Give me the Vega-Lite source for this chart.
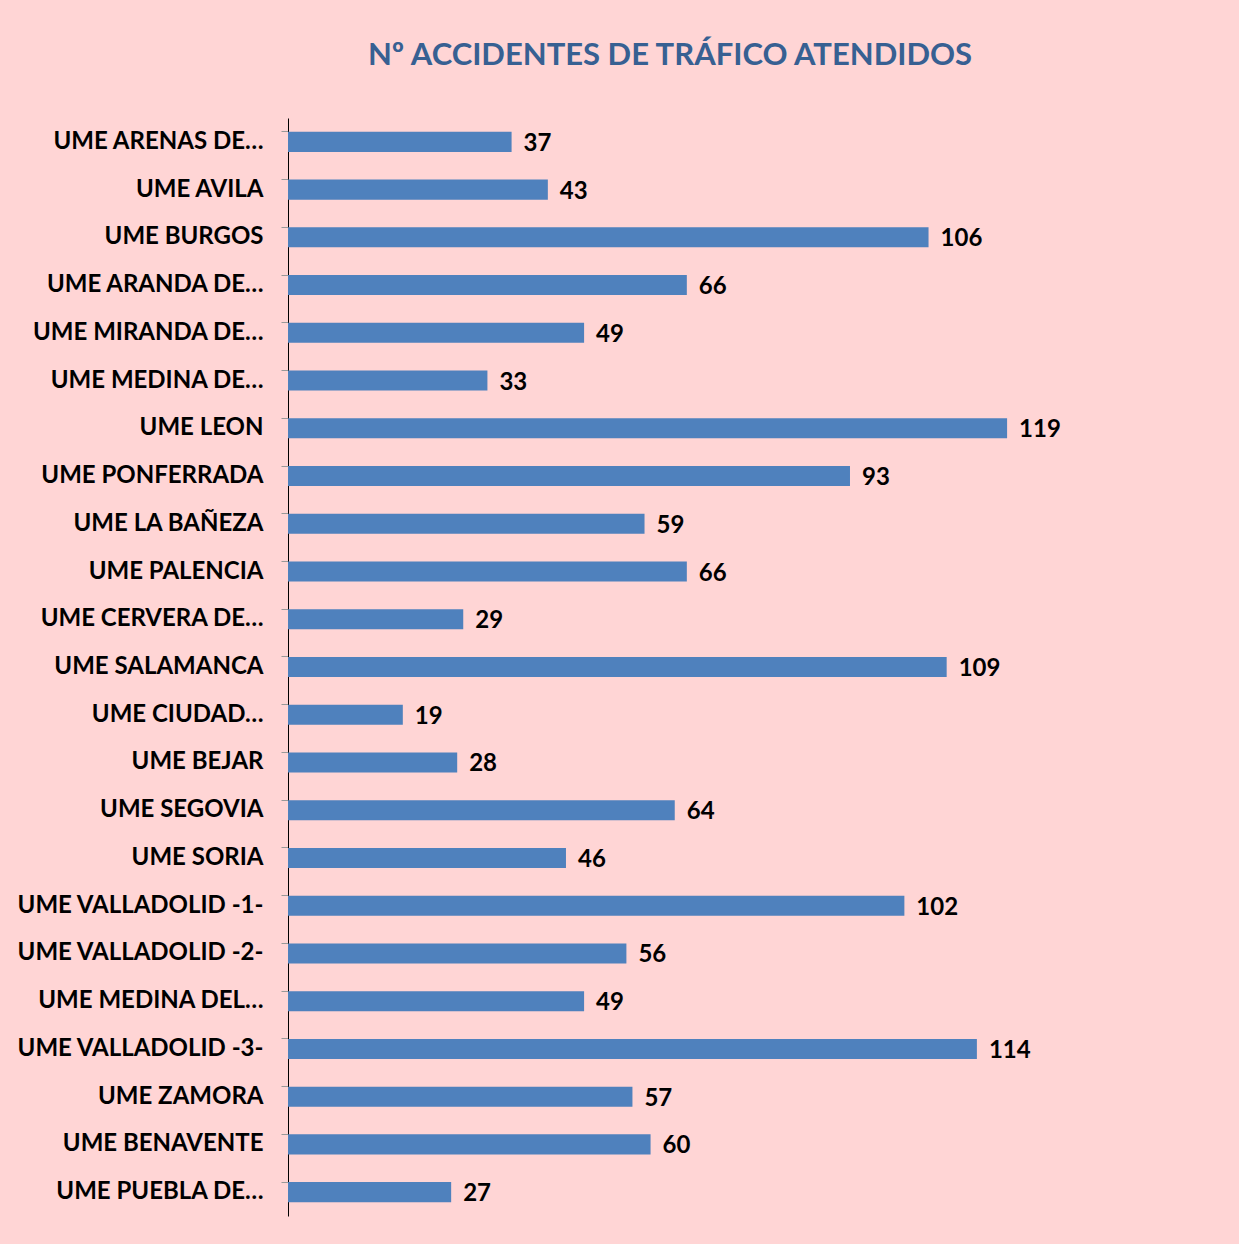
{
  "$schema": "https://vega.github.io/schema/vega-lite/v6.json",
  "autosize": "none",
  "width": 846,
  "height": 1098,
  "padding": {"left": 288, "top": 118, "right": 105, "bottom": 28},
  "background": "#FFD5D5",
  "title": {
    "text": "Nº ACCIDENTES DE TRÁFICO ATENDIDOS",
    "font": "Lato",
    "fontSize": 31,
    "fontWeight": "bold",
    "color": "#376092",
    "anchor": "middle",
    "frame": "group",
    "dx": -41,
    "offset": 46
  },
  "data": {
    "values": [
      {"unidad": "UME ARENAS DE…", "n": 37},
      {"unidad": "UME AVILA", "n": 43},
      {"unidad": "UME BURGOS", "n": 106},
      {"unidad": "UME ARANDA DE…", "n": 66},
      {"unidad": "UME MIRANDA DE…", "n": 49},
      {"unidad": "UME MEDINA DE…", "n": 33},
      {"unidad": "UME LEON", "n": 119},
      {"unidad": "UME PONFERRADA", "n": 93},
      {"unidad": "UME LA BAÑEZA", "n": 59},
      {"unidad": "UME PALENCIA", "n": 66},
      {"unidad": "UME CERVERA DE…", "n": 29},
      {"unidad": "UME SALAMANCA", "n": 109},
      {"unidad": "UME CIUDAD…", "n": 19},
      {"unidad": "UME BEJAR", "n": 28},
      {"unidad": "UME SEGOVIA", "n": 64},
      {"unidad": "UME SORIA", "n": 46},
      {"unidad": "UME VALLADOLID -1-", "n": 102},
      {"unidad": "UME VALLADOLID -2-", "n": 56},
      {"unidad": "UME MEDINA DEL…", "n": 49},
      {"unidad": "UME VALLADOLID -3-", "n": 114},
      {"unidad": "UME ZAMORA", "n": 57},
      {"unidad": "UME BENAVENTE", "n": 60},
      {"unidad": "UME PUEBLA DE…", "n": 27}
    ]
  },
  "encoding": {
    "y": {
      "field": "unidad",
      "type": "nominal",
      "sort": null,
      "scale": {"paddingInner": 0.58, "paddingOuter": 0.29},
      "axis": {
        "title": null,
        "bandPosition": 0,
        "domainColor": "#000000",
        "domainWidth": 1,
        "tickColor": "#999999",
        "tickSize": 7,
        "labelPadding": 18,
        "labelFont": "Lato",
        "labelFontSize": 24,
        "labelFontWeight": "bold",
        "labelColor": "#000000",
        "labelLimit": 300
      }
    },
    "x": {
      "field": "n",
      "type": "quantitative",
      "scale": {"domain": [0, 140], "nice": false},
      "axis": null
    }
  },
  "layer": [
    {"mark": {"type": "bar", "color": "#4F81BD"}},
    {
      "mark": {
        "type": "text",
        "align": "left",
        "baseline": "middle",
        "dx": 12,
        "dy": 2,
        "font": "Lato",
        "fontSize": 24,
        "fontWeight": "bold",
        "color": "#000000"
      },
      "encoding": {"text": {"field": "n", "type": "quantitative"}}
    }
  ],
  "config": {"view": {"stroke": null}}
}
